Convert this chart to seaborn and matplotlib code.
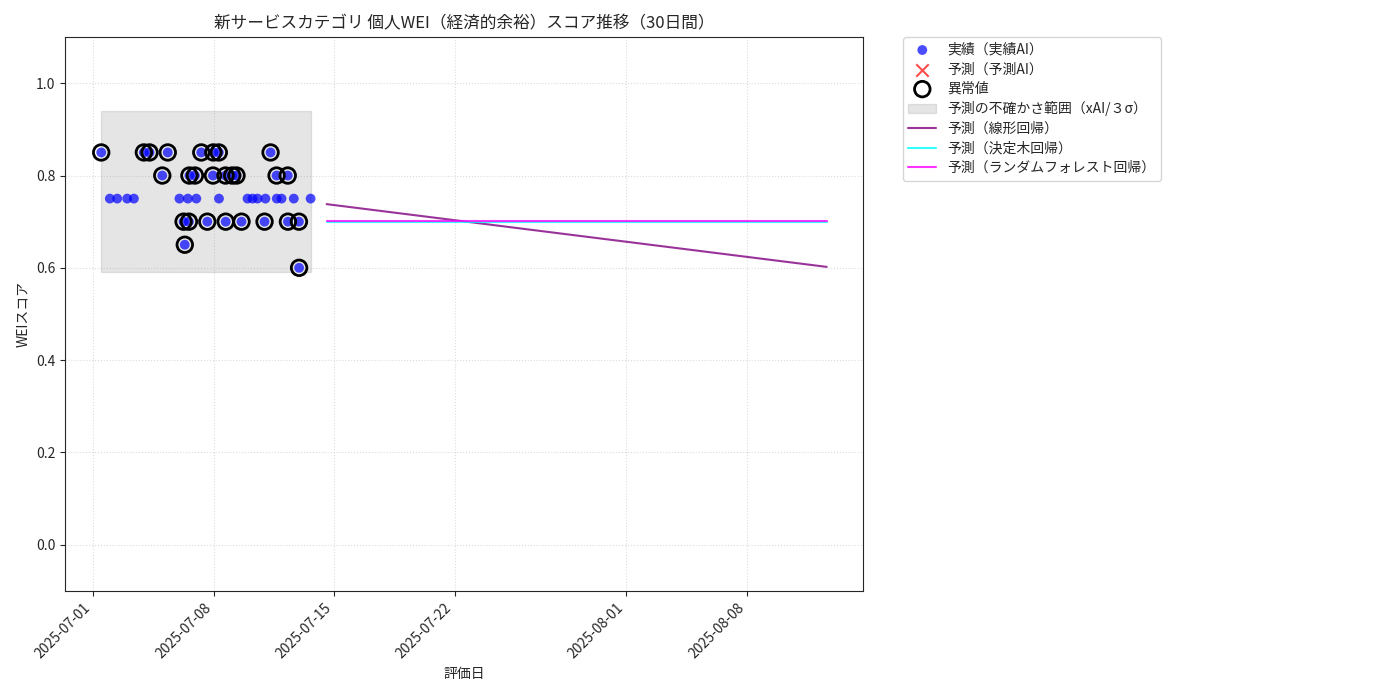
import numpy as np
import pandas as pd
import matplotlib
matplotlib.use("Agg")
import matplotlib.pyplot as plt
import seaborn as sns

sns.set_style("ticks")
plt.rcParams['font.family'] = ['Noto Sans CJK JP', 'DejaVu Sans']

''' Actual scores (days after 2025-07-01 00:00, score) '''
act_days = [0.45, 0.95, 1.38, 1.96, 2.35, 2.93, 3.26, 4.0, 4.32, 5.0,
            5.24, 5.31, 5.49, 5.55, 5.58, 5.9, 5.98, 6.27, 6.62, 6.95,
            6.97, 7.29, 7.30, 7.68, 7.69, 8.07, 8.32, 8.61, 8.96, 9.25,
            9.54, 9.95, 10.0, 10.3, 10.65, 10.66, 10.94, 11.3, 11.31, 11.65,
            11.95, 11.96, 12.63]
act_score = [0.85, 0.75, 0.75, 0.75, 0.75, 0.85, 0.85, 0.80, 0.85, 0.75,
             0.70, 0.65, 0.75, 0.70, 0.80, 0.80, 0.75, 0.85, 0.70, 0.80,
             0.85, 0.85, 0.75, 0.80, 0.70, 0.80, 0.80, 0.70, 0.75, 0.75,
             0.75, 0.70, 0.75, 0.85, 0.80, 0.75, 0.75, 0.80, 0.70, 0.75,
             0.70, 0.60, 0.75]

''' Uncertainty band '''
band_low = 0.59
band_high = 0.94

''' Predictions (start / end) '''
pred_days = [13.56, 42.65]
pred_linear = [0.738, 0.602]
pred_tree = [0.700, 0.700]
pred_forest = [0.701, 0.701]

base = pd.Timestamp("2025-07-01")
df = pd.DataFrame({"date": base + pd.to_timedelta(act_days, unit="D"),
                   "score": act_score})
outliers = df[df["score"] != 0.75]
pred = pd.DataFrame({"date": base + pd.to_timedelta(pred_days, unit="D"),
                     "linear": pred_linear, "tree": pred_tree,
                     "forest": pred_forest})

fig, ax = plt.subplots(figsize=(14, 7), dpi=100)

sns.scatterplot(data=df, x="date", y="score", color="blue", alpha=0.7,
                s=50, edgecolor="none", label="実績（実績AI）", ax=ax, zorder=3)
ax.scatter([], [], color="red", marker="x", s=80, alpha=0.7, label="予測（予測AI）")
ax.scatter(outliers["date"], outliers["score"], facecolors="none",
           edgecolors="black", s=125, linewidths=2, label="異常値", zorder=4)
ax.fill_between([df["date"].min(), df["date"].max()], band_low, band_high,
                color="gray", alpha=0.2, label="予測の不確かさ範囲（xAI/３σ）", zorder=1)
sns.lineplot(data=pred, x="date", y="linear", color="purple", alpha=0.8,
             label="予測（線形回帰）", ax=ax)
sns.lineplot(data=pred, x="date", y="tree", color="cyan", alpha=0.8,
             label="予測（決定木回帰）", ax=ax)
sns.lineplot(data=pred, x="date", y="forest", color="magenta", alpha=0.8,
             label="予測（ランダムフォレスト回帰）", ax=ax)

ax.set_ylim(-0.1, 1.1)
ax.set_title("新サービスカテゴリ 個人WEI（経済的余裕）スコア推移（30日間）", fontsize=12)
ax.set_xlabel("評価日")
ax.set_ylabel("WEIスコア")
ax.grid(True, linestyle=":", alpha=0.7)
for spine in ax.spines.values():
    spine.set_visible(True)
plt.setp(ax.get_xticklabels(), rotation=45, ha="right")
ax.legend(bbox_to_anchor=(1.05, 1), loc="upper left", borderaxespad=0.,
          labelspacing=0.4)

plt.subplots_adjust(left=0.0464, right=0.6164, top=0.947, bottom=0.156)
plt.savefig("out.png")
